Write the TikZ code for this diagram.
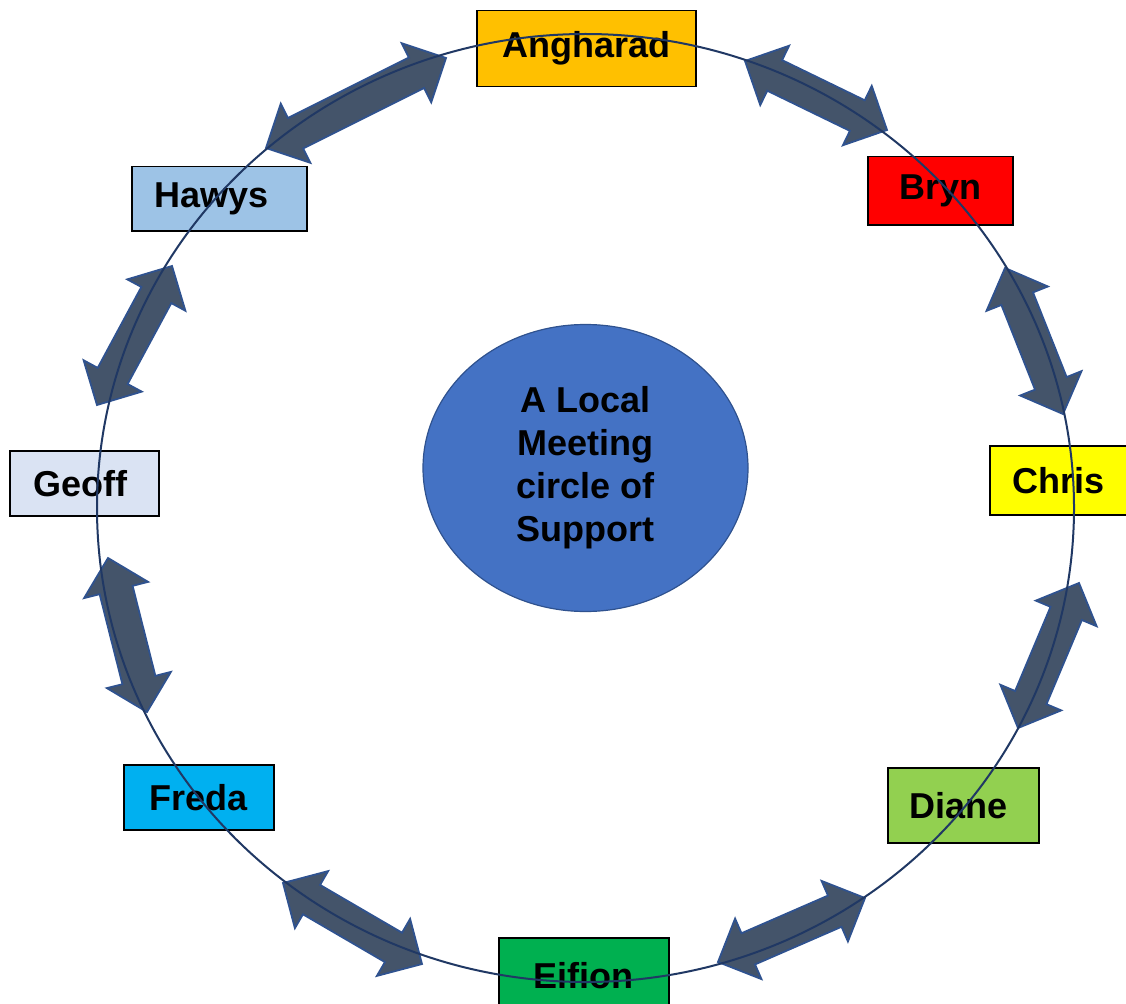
\documentclass[tikz,border=0pt]{standalone}
\usepackage{fontspec}
\setmainfont{Liberation Sans}
\usepackage{tikz}
\usetikzlibrary{calc,shapes.geometric}

\definecolor{angharadfill}{HTML}{FFC000}
\definecolor{brynfill}{HTML}{FF0000}
\definecolor{chrisfill}{HTML}{FFFF00}
\definecolor{dianefill}{HTML}{92D050}
\definecolor{eifionfill}{HTML}{00B050}
\definecolor{fredafill}{HTML}{00B0F0}
\definecolor{geofffill}{HTML}{DAE3F3}
\definecolor{hawysfill}{HTML}{9DC3E6}
\definecolor{hubfill}{HTML}{4472C4}
\definecolor{hubline}{HTML}{2F528F}
\definecolor{ringline}{HTML}{203864}
\definecolor{arrowfill}{HTML}{44546A}
\definecolor{arrowline}{HTML}{2F528F}

\newcommand{\headlen}{33pt}
\newcommand{\headwd}{33pt}
\newcommand{\shaftwd}{17pt}
% block arrow with a head at both ends
\newcommand{\twoway}[2]{%
  \draw[twowayarrow] (#1)
    -- ($(#1)!\headlen!(#2)!\headwd!90:(#2)$)
    -- ($(#1)!\headlen!(#2)!\shaftwd!90:(#2)$)
    -- ($(#2)!\headlen!(#1)!\shaftwd!-90:(#1)$)
    -- ($(#2)!\headlen!(#1)!\headwd!-90:(#1)$)
    -- (#2)
    -- ($(#2)!\headlen!(#1)!\headwd!90:(#1)$)
    -- ($(#2)!\headlen!(#1)!\shaftwd!90:(#1)$)
    -- ($(#1)!\headlen!(#2)!\shaftwd!-90:(#2)$)
    -- ($(#1)!\headlen!(#2)!\headwd!-90:(#2)$)
    -- cycle;}

\begin{document}
\begin{tikzpicture}[x=1pt, y=-1pt,
  namebox/.style={draw=black, line width=1.5pt, anchor=north west, inner sep=0pt,
    font=\bfseries\fontsize{36}{43}\selectfont},
  hub/.style={ellipse, draw=hubline, fill=hubfill, line width=1.2pt, inner sep=0pt,
    minimum width=325pt, minimum height=287pt, align=center,
    font=\bfseries\fontsize{36}{43}\selectfont},
  ring/.style={draw=ringline, line width=2pt},
  twowayarrow/.style={fill=arrowfill, draw=arrowline, line width=1.8pt, line join=miter}]
\useasboundingbox (0,0) rectangle (1126,1003);
%%%%% Names %%%%%
\node[namebox, fill=angharadfill, minimum width=219pt, minimum height=76pt] (ang) at (476,10) {Angharad};
\node[namebox, fill=brynfill, minimum width=145pt, minimum height=68pt] (bry) at (867,156) {Bryn};
\node[namebox, fill=chrisfill, minimum width=138pt, minimum height=69pt] (chr) at (989,445) {Chris};
\node[namebox, fill=dianefill, minimum width=151pt, minimum height=75pt] (dia) at (887,767) {Diane\kern9pt};
\node[namebox, fill=eifionfill, minimum width=170pt, minimum height=76pt] (eif) at (498,937) {Eifion};
\node[namebox, fill=fredafill, minimum width=150pt, minimum height=65pt] (fre) at (123,764) {Freda};
\node[namebox, fill=geofffill, minimum width=149pt, minimum height=65pt] (geo) at (9,450) {Geoff\kern8pt};
\node[namebox, fill=hawysfill, minimum width=175pt, minimum height=64pt] (haw) at (131,166) {Hawys\kern15pt};
%%%%% Centre %%%%%
\node[hub] (hub) at (585.5,468) {A Local\\Meeting\\circle of\\Support};
%%%%% Arrow tips %%%%%
\coordinate (ang-haw) at (446,58);   \coordinate (haw-ang) at (266,148);
\coordinate (ang-bry) at (745,61);   \coordinate (bry-ang) at (887,130);
\coordinate (bry-chr) at (1005,268); \coordinate (chr-bry) at (1063,414);
\coordinate (chr-dia) at (1079,583); \coordinate (dia-chr) at (1018,728);
\coordinate (dia-eif) at (865,898);  \coordinate (eif-dia) at (718,962);
\coordinate (eif-fre) at (422,964);  \coordinate (fre-eif) at (283,883);
\coordinate (fre-geo) at (147,712);  \coordinate (geo-fre) at (108,558);
\coordinate (geo-haw) at (97,405);   \coordinate (haw-geo) at (172,266);
%%%%% Arrows %%%%%
\foreach \p/\q in {ang/haw, ang/bry, bry/chr, chr/dia, dia/eif, eif/fre, fre/geo, geo/haw}
  \twoway{\p-\q}{\q-\p};
%%%%% Ring %%%%%
\draw[ring] (585.5,508) ellipse [x radius=488.5pt, y radius=474pt];
\end{tikzpicture}
\end{document}
